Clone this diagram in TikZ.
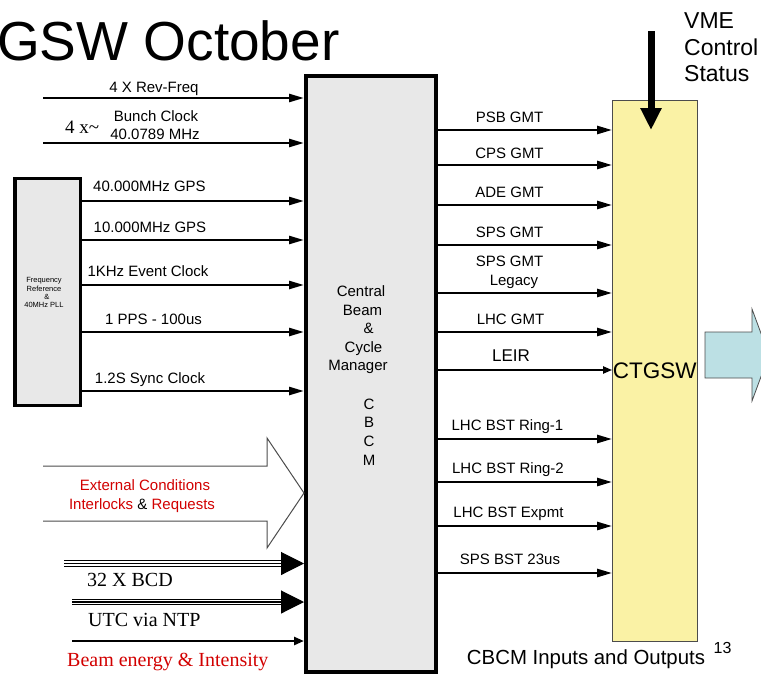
\documentclass[tikz,border=0pt]{standalone}
\usepackage{fontspec}
\setmainfont{Liberation Sans}
\newfontfamily\serifnf{Liberation Serif}
\usetikzlibrary{arrows.meta}
\definecolor{boxgray}{RGB}{232,232,232}
\definecolor{ctyellow}{RGB}{250,242,165}
\definecolor{outblue}{RGB}{188,224,228}
\definecolor{cred}{RGB}{210,0,0}
\begin{document}
\begin{tikzpicture}[x=1pt,y=-1pt,
  lbl/.style={font=\fontsize{15}{18}\selectfont, inner sep=0pt, anchor=base},
  lblw/.style={font=\fontsize{15}{18}\selectfont, inner sep=0pt, anchor=base west},
  serlbl/.style={font=\serifnf\fontsize{20}{24}\selectfont, inner sep=0pt, anchor=base west},
  midtxt/.style={font=\fontsize{15}{18}\selectfont, inner sep=0pt, anchor=base},
  tinytxt/.style={font=\fontsize{7.5}{9}\selectfont, inner sep=0pt, anchor=base},
  sig/.style={line width=2.5pt, -{Triangle[length=15pt,width=8pt]}},
  thinsig/.style={line width=2pt, -{Triangle[length=9pt,width=7pt]}},
  busline/.style={line width=1.1pt},
  busarrow/.style={line width=1.1pt, -{Triangle[length=23pt,width=23pt]}},
  graybox/.style={draw, fill=boxgray, inner sep=0pt},
]
\clip (0,0) rectangle (761,675);

% title
\node[anchor=base west, inner sep=0pt, font=\fontsize{55}{60}\selectfont] (title) at (-3,60) {GSW October};

% boxes
\node[graybox, line width=4pt, minimum width=130pt, minimum height=596pt] (cbcm) at (371,374) {};
\node[graybox, line width=3.5pt, minimum width=65.5pt, minimum height=227pt] (freq) at (47.75,292) {};
\node[draw=black!70, line width=0.8pt, fill=ctyellow, minimum width=84.5pt, minimum height=541pt, inner sep=0pt,
      font=\fontsize{22.5}{26}\selectfont] (ctgsw) at (654.75,370.5) {CTGSW};

% central box text
\node[midtxt] (t1) at (361,296.7) {Central};
\node[midtxt] (t2) at (362.5,315) {Beam};
\node[midtxt] (t3) at (368.5,333.5) {\&};
\node[midtxt] (t4) at (363.5,352) {Cycle};
\node[midtxt] (t5) at (358,370.7) {Manager};
\node[midtxt] (t6) at (369,409.3) {C};
\node[midtxt] (t7) at (369,427.7) {B};
\node[midtxt] (t8) at (369,446.7) {C};
\node[midtxt] (t9) at (369,465) {M};

% freq box text
\node[tinytxt] (q1) at (44,282.7) {Frequency};
\node[tinytxt] (q2) at (44,291.7) {Reference};
\node[tinytxt] (q3) at (47,299.3) {\&};
\node[tinytxt] (q4) at (44,307.3) {40MHz PLL};

% top inputs
\coordinate (i1) at (43,98);
\coordinate (i2) at (43,143);
\draw[sig] (i1) -- (i1 -| cbcm.west);
\draw[sig] (i2) -- (i2 -| cbcm.west);
\node[lbl] (li1) at (154,92.5) {4 X Rev-Freq};
\node[lbl] (li2a) at (156,121.7) {Bunch Clock};
\node[lbl] (li2b) at (155,139.3) {40.0789 MHz};
\node[anchor=base west, inner sep=0pt, font=\serifnf\fontsize{19}{22}\selectfont] (fourx) at (65,133) {4 x\textasciitilde};

% freq reference outputs
\coordinate (f1) at (0,201);
\coordinate (f2) at (0,240);
\coordinate (f3) at (0,285);
\coordinate (f4) at (0,332);
\coordinate (f5) at (0,391);
\draw[sig] (f1 -| freq.east) -- (f1 -| cbcm.west);
\draw[sig] (f2 -| freq.east) -- (f2 -| cbcm.west);
\draw[sig] (f3 -| freq.east) -- (f3 -| cbcm.west);
\draw[sig] (f4 -| freq.east) -- (f4 -| cbcm.west);
\draw[sig] (f5 -| freq.east) -- (f5 -| cbcm.west);
\node[lbl] (lf1) at (149.5,191.7) {40.000MHz GPS};
\node[lbl] (lf2) at (150,232.7) {10.000MHz GPS};
\node[lbl] (lf3) at (148,276) {1KHz Event Clock};
\node[lbl] (lf4) at (153.5,324) {1 PPS - 100us};
\node[lbl] (lf5) at (150,383.3) {1.2S Sync Clock};

% external conditions hollow arrow
\draw[draw=black!70, line width=1pt, fill=white]
  (43,466) -- (267,466) -- (267,438) -- (304,493) -- (267,548) -- (267,521) -- (43,521);
\node[lbl, text=cred] (le1) at (145,490) {External Conditions};
\node[lbl] (le2) at (142,509) {\textcolor{cred}{Interlocks} \& \textcolor{cred}{Requests}};

% bus arrows
\coordinate (b1) at (64,563.5);
\coordinate (b2) at (72,602);
\foreach \s in {-2.7,2.7}{
  \draw[busline, shorten >=22pt, transform canvas={yshift=\s pt}] (b1) -- (b1 -| cbcm.west);
  \draw[busline, shorten >=22pt, transform canvas={yshift=\s pt}] (b2) -- (b2 -| cbcm.west);
}
\draw[busarrow] (b1) -- (b1 -| cbcm.west);
\draw[busarrow] (b2) -- (b2 -| cbcm.west);
\node[serlbl] (lb1) at (87,586.7) {32 X BCD};
\node[serlbl] (lb2) at (88,626.7) {UTC via NTP};

\coordinate (b3) at (72,641);
\draw[line width=2.5pt, -{Triangle[length=10pt,width=8pt]}] (b3) -- (b3 -| cbcm.west);
\node[serlbl, text=cred] (lb3) at (67,666.7) {Beam energy \& Intensity};

% outputs
\coordinate (o1) at (0,130);
\coordinate (o2) at (0,165);
\coordinate (o3) at (0,205);
\coordinate (o4) at (0,245);
\coordinate (o5) at (0,293);
\coordinate (o6) at (0,332);
\coordinate (o7) at (0,370);
\coordinate (o8) at (0,439);
\coordinate (o9) at (0,482);
\coordinate (o10) at (0,526);
\coordinate (o11) at (0,573);
\foreach \o in {o1,o2,o3,o4,o5,o6,o8,o9,o10,o11}{
  \draw[sig] (\o -| cbcm.east) -- (\o -| ctgsw.west);
}
\draw[thinsig] (o7 -| cbcm.east) -- (o7 -| ctgsw.west);
\node[lbl] (lo1) at (509.5,122.3) {PSB GMT};
\node[lbl] (lo2) at (509.5,158.3) {CPS GMT};
\node[lbl] (lo3) at (509.5,197.3) {ADE GMT};
\node[lbl] (lo4) at (509.5,237.3) {SPS GMT};
\node[lbl] (lo5a) at (509.5,266.7) {SPS GMT};
\node[lbl] (lo5b) at (514,285.7) {Legacy};
\node[lbl] (lo6) at (510.5,324) {LHC GMT};
\node[anchor=base, inner sep=0pt, font=\fontsize{17}{20}\selectfont] (lo7) at (511,361.7) {LEIR};
\node[lbl] (lo8) at (507.5,430.7) {LHC BST Ring-1};
\node[lbl] (lo9) at (508,473.3) {LHC BST Ring-2};
\node[lbl] (lo10) at (508.5,517.3) {LHC BST Expmt};
\node[lbl] (lo11) at (510,564) {SPS BST 23us};

% VME arrow
\coordinate (v0) at (651,31);
\coordinate (v1) at (651,130);
\draw[line width=7pt, -{Triangle[length=22pt,width=20pt]}] (v0) -- (v1);
\node[anchor=base west, inner sep=0pt, font=\fontsize{23}{27}\selectfont] (vme1) at (684,28.3) {VME};
\node[anchor=base west, inner sep=0pt, font=\fontsize{23}{27}\selectfont] (vme2) at (684,55) {Control};
\node[anchor=base west, inner sep=0pt, font=\fontsize{23}{27}\selectfont] (vme3) at (684,81.7) {Status};

% output block arrow
\draw[draw=black!70, line width=0.8pt, fill=outblue]
  (705,332) -- (752,332) -- (752,309) -- (769,355) -- (752,401) -- (752,378) -- (705,378) -- cycle;

% footer
\node[anchor=base, inner sep=0pt, font=\fontsize{20.4}{24}\selectfont] (foot) at (586,664) {CBCM Inputs and Outputs};
\node[anchor=base, inner sep=0pt, font=\fontsize{16}{19}\selectfont] (pg) at (722.5,653) {13};
\end{tikzpicture}
\end{document}
